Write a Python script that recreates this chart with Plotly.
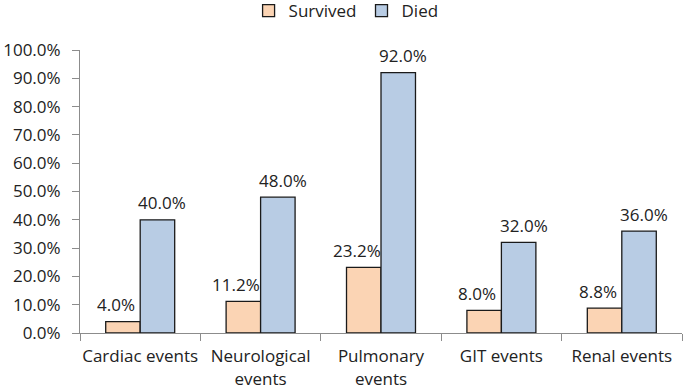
import plotly.graph_objects as go

categories = ["Cardiac events", "Neurological<br>events", "Pulmonary<br>events", "GIT events", "Renal events"]
survived = [4.0, 11.2, 23.2, 8.0, 8.8]
died = [40.0, 48.0, 92.0, 32.0, 36.0]

font = "Open Sans, Liberation Sans, sans-serif"
fs = 17
W, H = 685, 392
ML, MR, MT, MB = 80, 3, 50, 59
BARGAP = 0.427

fig = go.Figure()
fig.add_trace(go.Bar(
    name="Survived", x=categories, y=[v / 100 for v in survived],
    marker=dict(color="#FBD4B4", line=dict(color="#1a1a1a", width=1.3)),
))
fig.add_trace(go.Bar(
    name="Died", x=categories, y=[v / 100 for v in died],
    marker=dict(color="#B8CCE4", line=dict(color="#1a1a1a", width=1.3)),
))

# value labels above bars
cat_px = (W - ML - MR) / len(categories)
half_bar = cat_px * (1 - BARGAP) / 4
for series, sign, extra in ((survived, -1, -7), (died, 1, 5)):
    for c, v in zip(categories, series):
        fig.add_annotation(
            x=c, y=v / 100, xref="x", yref="y", text=f"{v:.1f}%",
            showarrow=False, xshift=sign * half_bar + extra, yshift=17,
            yanchor="middle", font=dict(size=fs, color="#222222", family=font),
        )

plot_h = H - MT - MB
fig.update_layout(
    width=W, height=H,
    margin=dict(l=ML, r=MR, t=MT, b=MB, autoexpand=False),
    paper_bgcolor="white", plot_bgcolor="white",
    barmode="group", bargap=BARGAP, bargroupgap=0,
    font=dict(family=font, size=fs, color="#222222"),
    showlegend=True,
    legend=dict(orientation="h", x=0.442, xanchor="center",
                y=1 + (MT - 11) / plot_h, yanchor="middle",
                font=dict(size=fs), itemwidth=30,
                traceorder="normal", tracegroupgap=0),
)
fig.update_xaxes(
    showline=True, linecolor="#8c8c8c", linewidth=1, automargin=False,
    ticks="outside", tickson="boundaries", ticklen=7, tickcolor="#8c8c8c",
    tickfont=dict(size=fs), showgrid=False, ticklabelstandoff=8, tickangle=0,
)
fig.update_yaxes(
    range=[0, 1], dtick=0.1, tickformat=".1%", automargin=False,
    showline=True, linecolor="#8c8c8c", linewidth=1,
    ticks="outside", ticklen=7, tickcolor="#8c8c8c",
    tickfont=dict(size=fs), showgrid=False, zeroline=False, ticklabelstandoff=8,
)

fig.write_html("out.html", config={"displayModeBar": False},
               post_script="document.body.style.margin='0';")
